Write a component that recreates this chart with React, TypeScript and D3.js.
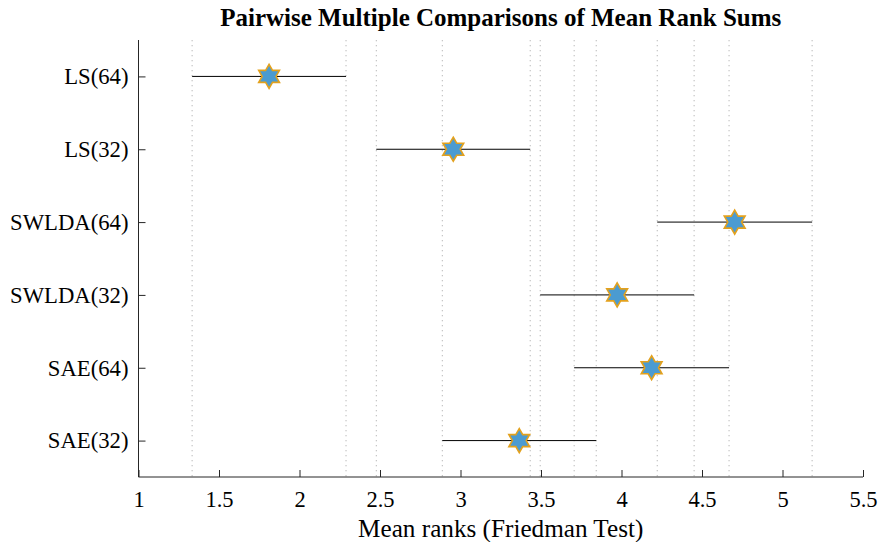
import React, { useEffect, useRef } from "react";
import * as d3 from "d3";

// Groups compared, top to bottom
const groups = ["LS(64)", "LS(32)", "SWLDA(64)", "SWLDA(32)", "SAE(64)", "SAE(32)"];
// Mean ranks per group
const meanRanks = [1.811, 2.955, 4.703, 3.973, 4.187, 3.365];
// Comparison interval limits
const lowerLimits = [1.333, 2.477, 4.222, 3.495, 3.706, 2.887];
const upperLimits = [2.289, 3.433, 5.184, 4.451, 4.668, 3.843];
// X axis ticks
const xTicks = [1, 1.5, 2, 2.5, 3, 3.5, 4, 4.5, 5, 5.5];

const W = 880;
const H = 542;
const margin = { left: 138.5, right: 17, top: 40, bottom: 65 };
const axisColor = "#262626";
const font = "'Liberation Serif', 'Times New Roman', serif";

function hexagramPath(r: number): string {
  const inner = r / Math.sqrt(3);
  const pts: [number, number][] = [];
  for (let i = 0; i < 12; i++) {
    const a = -Math.PI / 2 + (i * Math.PI) / 6;
    const rr = i % 2 === 0 ? r : inner;
    pts.push([rr * Math.cos(a), rr * Math.sin(a)]);
  }
  return (d3.line()(pts) || "") + "Z";
}

export default function App() {
  const xRef = useRef<SVGGElement>(null);
  const yRef = useRef<SVGGElement>(null);

  const x = d3.scaleLinear().domain([1, 5.5]).range([margin.left, W - margin.right]);
  const y = d3.scalePoint<string>().domain(groups).range([margin.top, H - margin.bottom]).padding(0.5);
  const plotTop = margin.top;
  const plotBottom = H - margin.bottom;

  useEffect(() => {
    const xAxis = d3
      .axisBottom(x)
      .tickValues(xTicks)
      .tickFormat((d) => String(d))
      .tickSizeInner(-7)
      .tickSizeOuter(0)
      .tickPadding(14);
    const gx = d3.select(xRef.current!);
    gx.call(xAxis as any);
    gx.select(".domain").attr("stroke", axisColor).attr("d", `M${x(1)},0H${x(5.5)}`);
    gx.selectAll(".tick line").attr("stroke", axisColor);
    gx.selectAll(".tick text")
      .attr("fill", "#000")
      .attr("font-family", font)
      .attr("font-size", 22.5);

    const yAxis = d3.axisLeft(y).tickSizeInner(-7).tickSizeOuter(0).tickPadding(10);
    const gy = d3.select(yRef.current!);
    gy.call(yAxis as any);
    gy.select(".domain").attr("stroke", axisColor).attr("d", `M0,${plotTop}V${plotBottom}`);
    gy.selectAll(".tick line").attr("stroke", axisColor);
    gy.selectAll(".tick text")
      .attr("fill", "#000")
      .attr("font-family", font)
      .attr("font-size", 22.7);
  }, []);

  const endpoints = [...lowerLimits, ...upperLimits];
  const star = hexagramPath(12);

  return (
    <svg
      width={W}
      height={H}
      style={{ position: "absolute", left: 0, top: 0, background: "#fff" }}
    >
      <rect width={W} height={H} fill="#fff" />
      {/* dotted reference lines at every interval limit */}
      {endpoints.map((v, i) => (
        <line
          key={"g" + i}
          x1={x(v)}
          x2={x(v)}
          y1={plotTop}
          y2={plotBottom}
          stroke="#b8b8b8"
          strokeWidth={1}
          strokeDasharray="1.3 3.7"
        />
      ))}
      {/* interval lines */}
      {groups.map((g, i) => (
        <line
          key={"l" + g}
          x1={x(lowerLimits[i])}
          x2={x(upperLimits[i])}
          y1={y(g)!}
          y2={y(g)!}
          stroke="#000"
          strokeWidth={1}
        />
      ))}
      {/* mean rank markers */}
      {groups.map((g, i) => (
        <path
          key={"m" + g}
          d={star}
          transform={`translate(${x(meanRanks[i])},${y(g)})`}
          fill="#4b9bd1"
          stroke="#e3a11d"
          strokeWidth={1.6}
          strokeLinejoin="miter"
        />
      ))}
      <g ref={xRef} transform={`translate(0,${plotBottom})`} />
      <g ref={yRef} transform={`translate(${margin.left},0)`} />
      <text
        x={(x(1) + x(5.5)) / 2}
        y={26}
        textAnchor="middle"
        fontFamily={font}
        fontWeight="bold"
        fontSize={25}
        fill="#000"
      >
        Pairwise Multiple Comparisons of Mean Rank Sums
      </text>
      <text
        x={(x(1) + x(5.5)) / 2}
        y={537}
        textAnchor="middle"
        fontFamily={font}
        fontSize={25.2}
        fill="#000"
      >
        Mean ranks (Friedman Test)
      </text>
    </svg>
  );
}
